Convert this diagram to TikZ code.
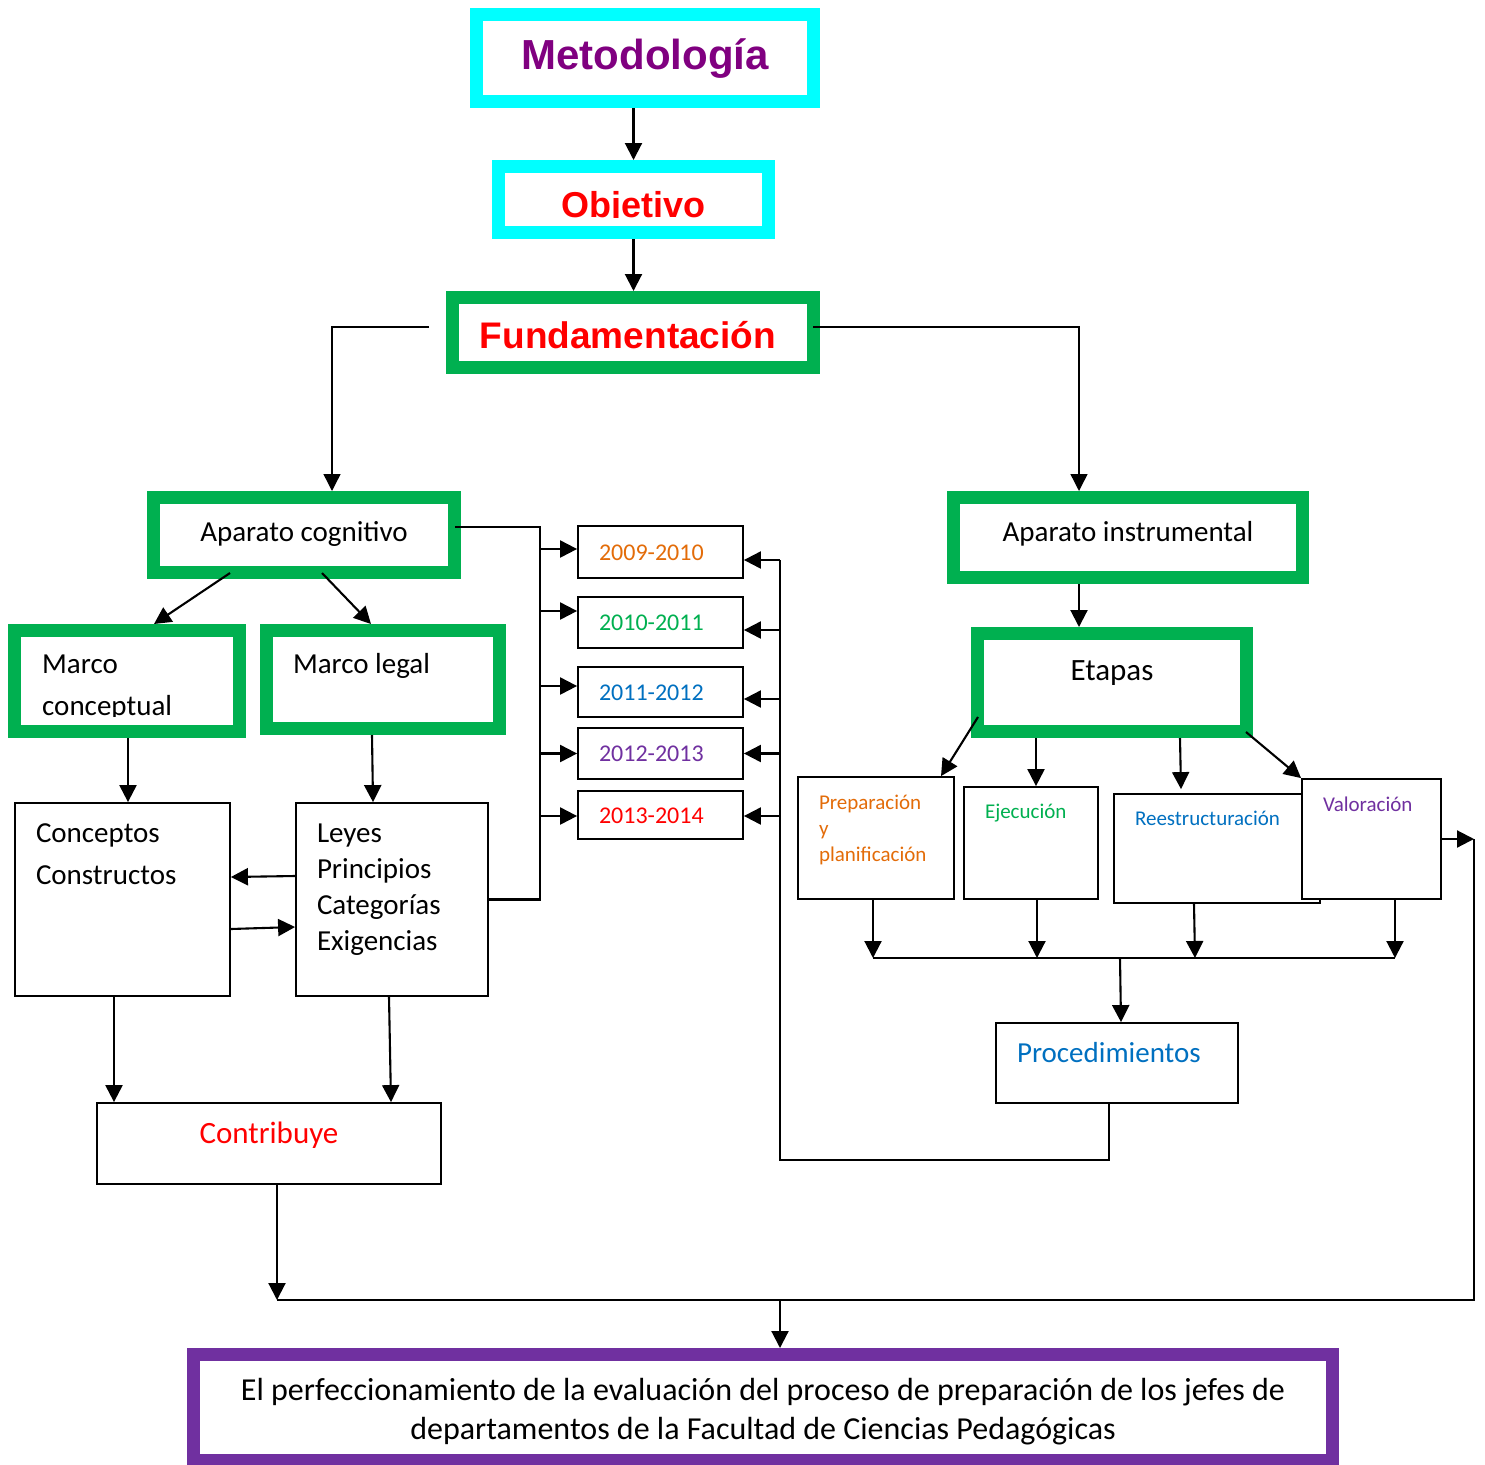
\documentclass[tikz,border=0pt]{standalone}
\usepackage{fontspec}
\setmainfont{Carlito}
\newfontfamily\headfont{Liberation Sans}
\usetikzlibrary{arrows.meta,calc}
\definecolor{cyanbox}{HTML}{00FFFF}
\definecolor{greenbox}{HTML}{00B050}
\definecolor{purplebox}{HTML}{7030A0}
\definecolor{metotext}{HTML}{800080}
\definecolor{orangetext}{HTML}{E36C09}
\definecolor{bluetext}{HTML}{0070C0}
\begin{document}
\begin{tikzpicture}[x=1pt,y=-1pt,
	frame/.style={draw=#1,line width=13pt,fill=white,inner sep=0pt},
	box/.style={draw,line width=1.8pt,fill=white,inner sep=0pt},
	wire/.style={line width=2.1pt},
	link/.style={wire,-{Triangle[length=17pt,width=17pt]}},
	bl down/.style={text height=#1,text depth=0pt},
	bl up/.style={text height=0pt,text depth=#1}]
	\useasboundingbox (0,0) rectangle (1485,1464);

	\node[frame=cyanbox,minimum width=337pt,minimum height=87pt,bl down=24pt,text=metotext,
		font=\headfont\bfseries\fontsize{42}{42}\selectfont] (meto) at (645,58) {Metodología};
	\node[frame=cyanbox,minimum width=270pt,minimum height=66pt] (obj) at (633.5,199.5) {};
	\begin{scope}
		\clip (505,173) rectangle (762,217);
		\node[inner sep=0pt,anchor=base,text=red,font=\headfont\bfseries\fontsize{36}{36}\selectfont]
			(objtxt) at (633.5,217) {Objetivo};
	\end{scope}
	\node[frame=greenbox,minimum width=361pt,minimum height=70pt,bl down=31pt,text=red,
		font=\headfont\bfseries\fontsize{37}{37}\selectfont] (fund) at (633,332.5) {Fundamentación\hspace*{10pt}};

	\node[frame=greenbox,minimum width=301pt,minimum height=75pt,bl down=12pt,
		font=\fontsize{29}{29}\selectfont] (apcog) at (304,535) {Aparato cognitivo};
	\node[frame=greenbox,minimum width=349pt,minimum height=80pt,bl down=7pt,
		font=\fontsize{29}{29}\selectfont] (apins) at (1128,537.5) {Aparato instrumental};

	\node[frame=greenbox,minimum width=225pt,minimum height=101pt] (mconc) at (127,681) {};
	\begin{scope}
		\clip (22,637) rectangle (232,716);
		\node[inner sep=0pt,anchor=base west,text width=180pt,align=flush left,font=\fontsize{29}{42}\selectfont]
			(mconctxt) at (42,673) {Marco\\conceptual};
	\end{scope}
	\node[frame=greenbox,minimum width=233pt,minimum height=98pt,text width=180pt,align=flush left,bl up=13pt,
		font=\fontsize{29}{42}\selectfont] (mleg) at (383,679.5) {Marco legal};

	\node[box,minimum width=215pt,minimum height=193pt,text width=173pt,align=flush left,bl up=115pt,
		font=\fontsize{29}{42}\selectfont] (conc) at (122.5,899.5) {Conceptos\\Constructos};
	\node[box,minimum width=192pt,minimum height=193pt,text width=150pt,align=flush left,bl up=115pt,
		font=\fontsize{29}{36}\selectfont] (leyes) at (392,899.5) {Leyes\\Principios\\Categorías\\Exigencias};
	\node[box,minimum width=344pt,minimum height=81pt,bl up=1pt,text=red,
		font=\fontsize{31}{31}\selectfont] (contrib) at (269,1143.5) {Contribuye};

	\foreach \n/\yr/\cy/\h/\col in {y1/2009-2010/552/52/orangetext,y2/2010-2011/622.5/51/greenbox,
		y3/2011-2012/692/50/bluetext,y4/2012-2013/753.5/51/purplebox,y5/2013-2014/815/48/red}
		\node[box,minimum width=165pt,minimum height=\h pt,text width=123pt,align=flush left,bl down=16pt,
			text=\col,font=\fontsize{24}{24}\selectfont] (\n) at (660.5,\cy) {\yr};

	\node[frame=greenbox,minimum width=269pt,minimum height=98pt,bl up=5pt,
		font=\fontsize{31}{31}\selectfont] (etapas) at (1112,682.5) {Etapas};
	\node[box,minimum width=156pt,minimum height=122pt,text width=114pt,align=flush left,bl up=58pt,
		text=orangetext,font=\fontsize{21}{26}\selectfont] (prep) at (876,838) {Preparación\\y\\planificación};
	\node[box,minimum width=134pt,minimum height=112pt,text width=92pt,align=flush left,bl up=50pt,
		text=greenbox,font=\fontsize{21}{26}\selectfont] (ejec) at (1031,843) {Ejecución};
	\node[box,minimum width=206pt,minimum height=109pt,text width=164pt,align=flush left,bl up=47pt,
		text=bluetext,font=\fontsize{21}{26}\selectfont] (reest) at (1217,848.5) {Reestructuración};
	\node[box,minimum width=139pt,minimum height=120pt,text width=97pt,align=flush left,bl up=56pt,
		text=purplebox,font=\fontsize{21}{26}\selectfont] (valor) at (1371.5,839) {Valoración};
	\node[box,minimum width=242pt,minimum height=80pt,text width=200pt,align=flush left,bl up=2pt,
		text=bluetext,font=\fontsize{29}{29}\selectfont] (proc) at (1117,1063) {Procedimientos};

	\node[frame=purplebox,minimum width=1139pt,minimum height=106pt,text width=1120pt,align=flush center,bl up=15pt,
		font=\fontsize{32}{39}\selectfont] (final) at (763,1407.5)
		{El perfeccionamiento de la evaluación del proceso de preparación de los jefes de\\departamentos de la Facultad de Ciencias Pedagógicas};

	\draw[link] (meto.south -| obj.north) -- (obj.north);
	\draw[link] (obj.south) -- (obj.south |- fund.north);
	\draw[link,line width=1.4pt] ([xshift=-17pt,yshift=5.5pt]fund.west) -| ([xshift=28pt]apcog.north);
	\draw[link,line width=1.4pt] ([xshift=-7pt,yshift=5.5pt]fund.east) -| ([xshift=-49pt]apins.north);

	\draw[link] ([xshift=-74pt,yshift=6pt]apcog.south) -- ([xshift=27pt]mconc.north);
	\draw[link] ([xshift=18pt,yshift=6pt]apcog.south) -- ([xshift=-12pt]mleg.north);
	\draw[link] ([xshift=1pt]mconc.south) -- ([xshift=1pt]mconc.south |- conc.north);
	\draw[link] ([xshift=-11pt]mleg.south) -- ([xshift=-19pt]leyes.north);
	\draw[link] ([yshift=23.5pt]leyes.west) -- ([yshift=22.5pt]conc.east);
	\draw[link] ([yshift=-29.5pt]conc.east) -- ([yshift=-27.5pt]leyes.west);
	\draw[link] ([xshift=-8.5pt]conc.south) -- ([xshift=-8.5pt]conc.south |- contrib.north);
	\draw[link] ([xshift=-3pt]leyes.south) -- ([xshift=-1pt]leyes.south |- contrib.north);

	\coordinate (trunkL) at (540,899.5);
	\coordinate (trunkR) at (780,1160);
	\draw[wire] ([xshift=-6pt,yshift=8pt]apcog.east) -| (trunkL) -- (leyes.east);
	\foreach \n/\dl/\dr in {y1/3/-8,y2/11.5/-7.5,y3/6/-7,y4/0/0,y5/-1/-1}{
		\coordinate (l\n) at ([yshift=\dl pt]\n.west);
		\coordinate (r\n) at ([yshift=\dr pt]\n.east);
		\draw[link] (trunkL |- l\n) -- (l\n);
		\draw[link] (trunkR |- r\n) -- (r\n);
	}
	\draw[wire] ([xshift=-8pt]proc.south) |- (trunkR) -- (trunkR |- ry1);

	\draw[link] ([xshift=-49pt]apins.south) -- ([xshift=-49pt]apins.south |- etapas.north);
	\draw[link] ([xshift=7pt,yshift=21pt]etapas.south west) -- ([xshift=65pt]prep.north);
	\draw[link] ([xshift=5pt]ejec.north |- etapas.south) -- ([xshift=5pt]ejec.north);
	\draw[link] ([xshift=-37pt]reest.north |- etapas.south) -- ([xshift=-36pt,yshift=4pt]reest.north);
	\draw[link] ([xshift=-7pt,yshift=6pt]etapas.south east) -- (valor.north west);

	\coordinate (busL) at (873,958);
	\coordinate (busR) at (1395,958);
	\draw[wire] (busL) -- (busR);
	\draw[link] ([xshift=-3pt]prep.south) -- ([xshift=-3pt]prep.south |- busL);
	\draw[link] ([xshift=6pt]ejec.south) -- ([xshift=6pt]ejec.south |- busL);
	\draw[link] ([xshift=-23pt]reest.south) -- ([xshift=-22pt]reest.south |- busL);
	\draw[link] ([xshift=23.5pt]valor.south) -- ([xshift=23.5pt]valor.south |- busL);
	\draw[link] ([xshift=3pt]proc.north |- busL) -- ([xshift=4pt]proc.north);

	\coordinate (jL) at (277,1300);
	\coordinate (jR) at (1474,1300);
	\coordinate (jM) at (780,1300);
	\draw[link] ([xshift=8pt]contrib.south) -- (jL);
	\draw[wire] (jL) -- (jR) -- (jR |- valor.east);
	\draw[link] (valor.east) -- (jR |- valor.east);
	\draw[link] (jM) -- (jM |- final.north);
\end{tikzpicture}
\end{document}
